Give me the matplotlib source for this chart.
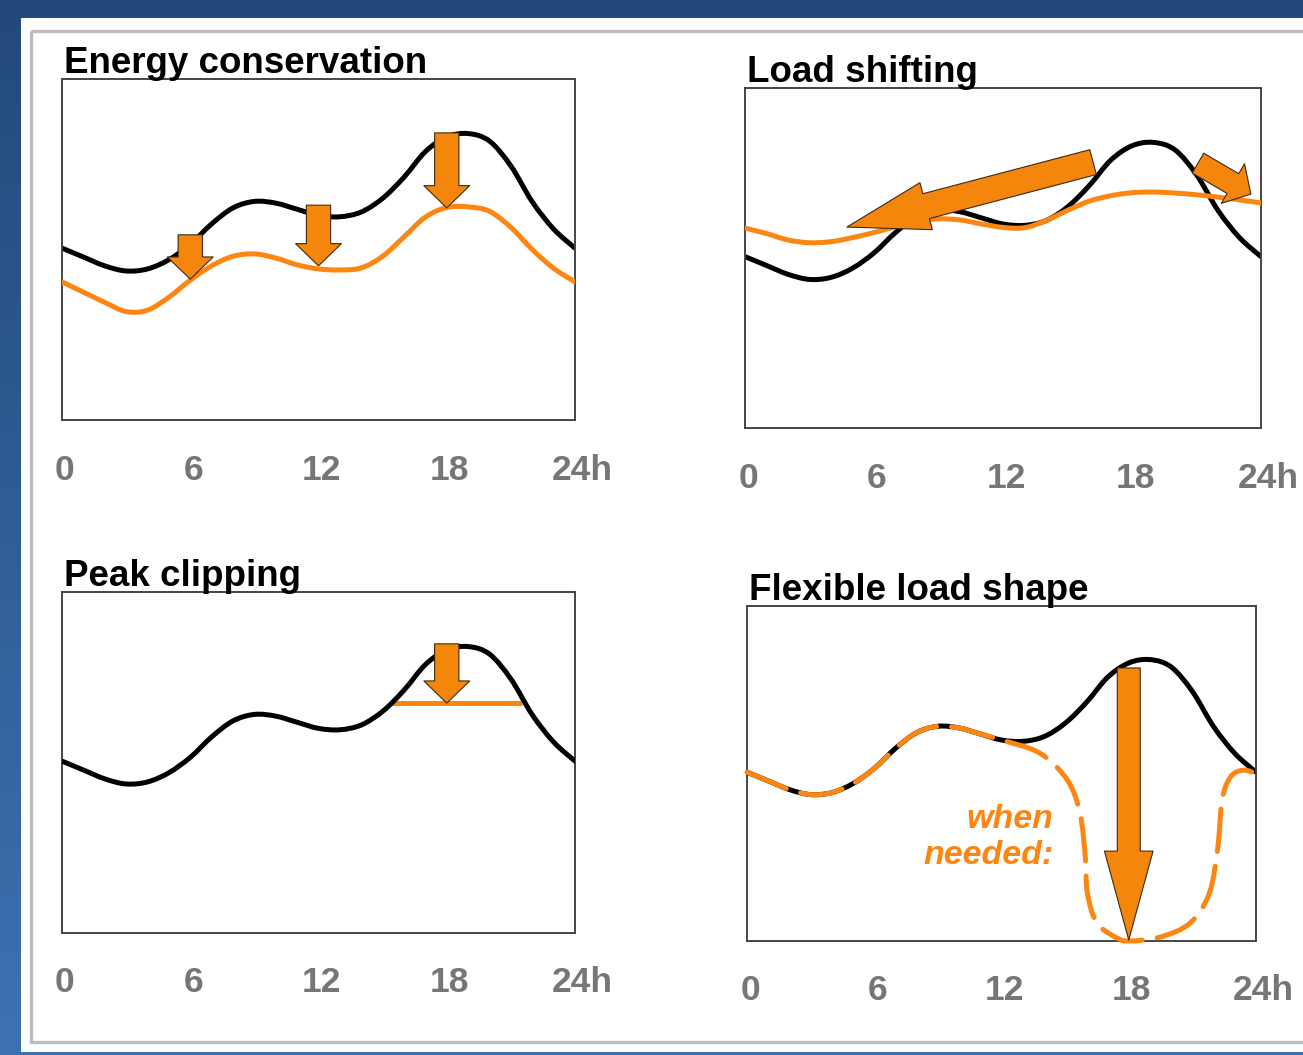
import numpy as np
import matplotlib
matplotlib.use("Agg")
import matplotlib.pyplot as plt
from matplotlib.path import Path
from matplotlib.patches import PathPatch, FancyArrowPatch, Rectangle
from matplotlib.transforms import offset_copy
from matplotlib.colors import LinearSegmentedColormap

plt.rcParams['font.family'] = ['Liberation Sans', 'DejaVu Sans']

# ---- data (load as share of box height, hour of day) ----
hours = list(range(25))
base_load = [0.504, 0.478, 0.452, 0.437, 0.443, 0.470, 0.515, 0.575, 0.622, 0.641,
             0.636, 0.618, 0.600, 0.596, 0.610, 0.650, 0.712, 0.787, 0.830, 0.840,
             0.818, 0.745, 0.640, 0.560, 0.504]
conserved_load = [0.405, 0.375, 0.345, 0.318, 0.322, 0.360, 0.410, 0.452, 0.480, 0.487,
                  0.475, 0.455, 0.443, 0.440, 0.446, 0.480, 0.537, 0.595, 0.623, 0.625,
                  0.612, 0.565, 0.500, 0.445, 0.405]
shifted_load = [0.588, 0.572, 0.553, 0.545, 0.548, 0.560, 0.575, 0.592, 0.607, 0.615,
                0.612, 0.600, 0.590, 0.589, 0.610, 0.640, 0.667, 0.683, 0.692, 0.694,
                0.691, 0.686, 0.679, 0.671, 0.662]
flex_hours = hours[:13] + [13.8, 15.1, 15.7, 15.95, 16.05, 16.5, 17.45, 18.05, 19.5,
                           20.9, 21.8, 22.2, 22.4, 22.8, 23.4, 24.0]
flex_load = base_load[:13] + [0.561, 0.481, 0.382, 0.251, 0.143, 0.054, 0.009, 0.0, 0.012,
                              0.054, 0.143, 0.280, 0.421, 0.490, 0.510, 0.500]
clip_level = 0.674
clip_span = (15.45, 21.5)

# arrows: (hour, from, to)
conserve_arrows = [(6, 0.543, 0.413), (12, 0.630, 0.452), (18, 0.842, 0.622)]
clip_arrow = (18, 0.848, 0.674)
flex_arrow = (18, 0.815, 0.003)
# load shifting arrows: ((h0, v0), (h1, v1))
shift_arrow_big = ((16.19, 0.782), (4.74, 0.591))
shift_arrow_small = ((21.07, 0.779), (23.53, 0.688))

tick_hours = [0, 6, 12, 18, 24]
tick_labels = ['0', '6', '12', '18', '24h']
titles = ['Energy conservation', 'Load shifting', 'Peak clipping', 'Flexible load shape']

ORANGE = '#fd8612'
ARROW_FC = '#f5860c'
ARROW_EC = '#3d2a12'
GREY = '#767676'

W, H = 1303, 1055
fig = plt.figure(figsize=(W / 100, H / 100), dpi=100)

# background: blue gradient, white sheet, grey frame
bg = fig.add_axes([0, 0, 1, 1])
bg.set_axis_off()
cmap = LinearSegmentedColormap.from_list('bg', ['#23497a', '#3d72b2'])
bg.imshow(np.linspace(0, 1, 256).reshape(-1, 1), aspect='auto', cmap=cmap,
          extent=[0, W, H, 0])
bg.set_xlim(0, W)
bg.set_ylim(H, 0)
bg.add_patch(Rectangle((21, 18), W, 1052 - 18, fc='white', ec='none'))
bg.add_patch(Rectangle((31, 31), W + 20, 1042 - 31, fc='none', ec='#bdbdbd', lw=2.4))


def catmull(xs, ys):
    pts = np.column_stack([xs, ys]).astype(float)
    n = len(pts)
    verts, codes = [pts[0]], [Path.MOVETO]
    for i in range(n - 1):
        p0 = pts[i - 1] if i > 0 else pts[i]
        p1, p2 = pts[i], pts[i + 1]
        p3 = pts[i + 2] if i + 2 < n else pts[i + 1]
        verts += [p1 + (p2 - p0) / 6, p2 - (p3 - p1) / 6, p2]
        codes += [Path.CURVE4] * 3
    return Path(verts, codes)


def curve(ax, xs, ys, color, z, **kw):
    ax.add_patch(PathPatch(catmull(xs, ys), fc='none', ec=color, lw=3.6,
                           capstyle='round', joinstyle='round', zorder=z, **kw))


def arrow(ax, start, end, tail, head_w, head_l):
    style = f"simple,head_length={head_l},head_width={head_w},tail_width={tail}"
    ax.add_patch(FancyArrowPatch(start, end, arrowstyle=style, mutation_scale=1,
                                 fc=ARROW_FC, ec=ARROW_EC, lw=0.8,
                                 shrinkA=0, shrinkB=0, zorder=6))


def panel(box, title):
    x0, y0, x1, y1 = box
    ax = fig.add_axes([x0 / W, 1 - y1 / H, (x1 - x0) / W, (y1 - y0) / H])
    ax.set_xlim(0, 24)
    ax.set_ylim(0, 1)
    ax.set_xticks([])
    ax.set_yticks([])
    for s in ax.spines.values():
        s.set_color('#454545')
        s.set_linewidth(1.4)
    ax.text(0.004, 1, title, transform=offset_copy(ax.transAxes, fig=fig, y=6, units='dots'),
            ha='left', va='baseline', fontsize=26.5, fontweight='bold', color='black')
    for h, lab in zip(tick_hours, tick_labels):
        dx = 7 if lab.endswith('h') else 3
        tr = offset_copy(ax.get_xaxis_transform(), fig=fig, x=dx, y=-50, units='dots')
        ax.text(h, 0, lab, transform=tr, ha='center', va='center',
                fontsize=25.5, fontweight='bold', color=GREY)
    return ax


ax1 = panel((62, 79, 575, 420), titles[0])
ax2 = panel((745, 88, 1261, 428), titles[1])
ax3 = panel((62, 592, 575, 933), titles[2])
ax4 = panel((747, 606, 1256, 941), titles[3])

# energy conservation
curve(ax1, hours, base_load, 'black', 2)
curve(ax1, hours, conserved_load, ORANGE, 3)
for h, a, b in conserve_arrows:
    arrow(ax1, (h, a), (h, b), 17.5, 33, 16)

# load shifting
curve(ax2, hours, base_load, 'black', 2)
curve(ax2, hours, shifted_load, ORANGE, 3)
arrow(ax2, shift_arrow_big[0], shift_arrow_big[1], 18.5, 35, 59)
arrow(ax2, shift_arrow_small[0], shift_arrow_small[1], 16.5, 33, 15)

# peak clipping
curve(ax3, hours, base_load, 'black', 3)
ax3.plot(clip_span, [clip_level, clip_level], color=ORANGE, lw=3.6,
         solid_capstyle='butt', zorder=2)
arrow(ax3, (clip_arrow[0], clip_arrow[1]), (clip_arrow[0], clip_arrow[2]), 17.5, 33, 16)

# flexible load shape
curve(ax4, hours, base_load, 'black', 2)
curve(ax4, flex_hours, flex_load, ORANGE, 3, linestyle=(0, (8.5, 3)), clip_on=False)
arrow(ax4, (flex_arrow[0], flex_arrow[1]), (flex_arrow[0], flex_arrow[2]), 16.5, 35, 64)
ax4.text(14.45, 0.31, 'when\nneeded:', ha='right', va='center', ma='right',
         fontsize=24.5, fontweight='bold', fontstyle='italic', color=ORANGE,
         linespacing=1.2)

fig.savefig('out.png', dpi=100)
